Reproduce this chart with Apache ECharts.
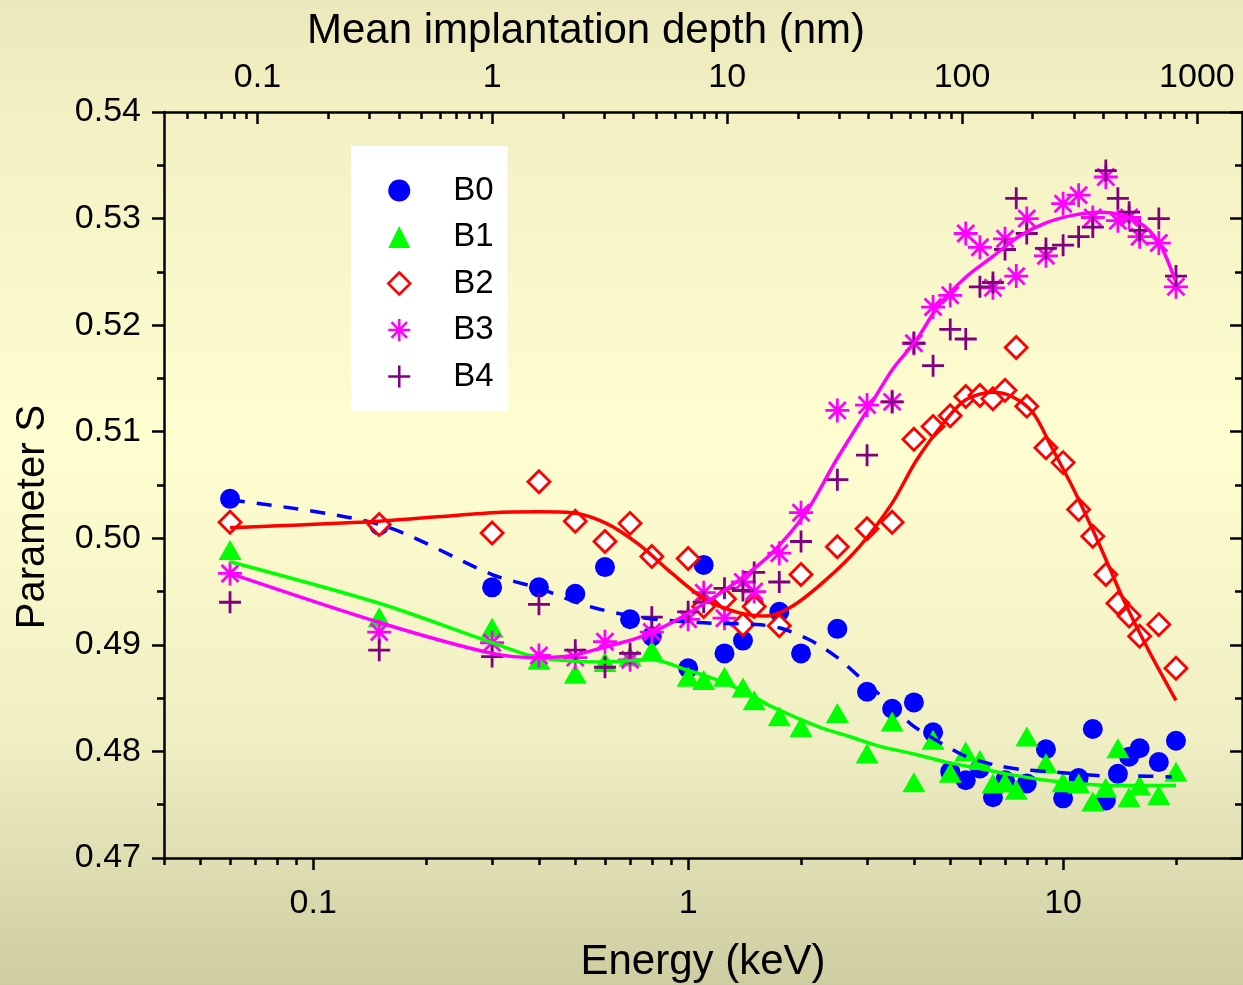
<!DOCTYPE html>
<html><head><meta charset="utf-8">
<script src="https://cdn.jsdelivr.net/npm/echarts@6/dist/echarts.min.js"></script>
<style>html,body{margin:0;padding:0;background:#fff;}#c{width:1243px;height:985px;}</style>
</head><body><div id="c"></div>
<script>
// ---------- data ----------
const E_B0 = [0.06,0.15,0.3,0.4,0.5,0.6,0.7,0.8,1,1.1,1.25,1.4,1.5,1.75,2,2.5,3,3.5,4,4.5,5,5.5,6,6.5,7,8,9,10,11,12,13,14,15,16,18,20];
const S_B0 = [0.5037,0.5012,0.4954,0.4954,0.4948,0.4973,0.4924,0.4908,0.4878,0.4975,0.4892,0.4904,0.4937,0.4931,0.4892,0.4915,0.4856,0.4840,0.4846,0.4818,0.4781,0.4773,0.4784,0.4757,0.4773,0.4770,0.4802,0.4756,0.4775,0.4821,0.4754,0.4779,0.4795,0.4803,0.4790,0.4810];
const E_ALL = [0.06,0.15,0.3,0.4,0.5,0.6,0.7,0.8,1,1.1,1.25,1.4,1.5,1.75,2,2.5,3,3.5,4,4.5,5,5.5,6,6.5,7,7.5,8,9,10,11,12,13,14,15,16,18,20];
const S_B1 = [0.4989,0.4926,0.4916,0.4886,0.4873,0.4884,0.4889,0.4895,0.4870,0.4867,0.4870,0.4860,0.4848,0.4833,0.4823,0.4836,0.4798,0.4828,0.4771,0.4811,0.4780,0.4800,0.4792,0.4770,0.4771,0.4764,0.4814,0.4789,0.4771,0.4770,0.4753,0.4766,0.4803,0.4757,0.4768,0.4759,0.4781];
const S_B2 = [0.5015,0.5013,0.5005,0.5053,0.5016,0.4997,0.5014,0.4983,0.4981,0.4936,0.4943,0.4919,0.4936,0.4918,0.4966,0.4992,0.5009,0.5015,0.5093,0.5105,0.5115,0.5133,0.5134,0.5131,0.5139,0.5179,0.5124,0.5085,0.5071,0.5027,0.5002,0.4966,0.4939,0.4927,0.4908,0.4919,0.4878];
const S_B3 = [0.4967,0.4912,0.4902,0.4890,0.4888,0.4903,0.4886,0.4912,0.4924,0.4949,0.4925,0.4959,0.4950,0.4986,0.5024,0.5120,0.5125,0.5128,0.5183,0.5217,0.5228,0.5286,0.5273,0.5235,0.5281,0.5246,0.5300,0.5265,0.5314,0.5322,0.5301,0.5339,0.5298,0.5301,0.5283,0.5277,0.5236];
const S_B4 = [0.4940,0.4895,0.4889,0.4938,0.4895,0.4879,0.4892,0.4926,0.4931,0.4940,0.4953,0.4951,0.4968,0.4959,0.4997,0.5055,0.5078,0.5128,0.5183,0.5162,0.5196,0.5187,0.5236,0.5240,0.5271,0.5319,0.5286,0.5272,0.5275,0.5283,0.5292,0.5345,0.5319,0.5306,0.5289,0.5300,0.5246];

// fitted curves
const FIT_B0_E = [0.06,0.15,0.3,0.4,0.545,0.74,1.05,1.52,1.75,2.1,2.48,2.86,3.37,3.95,4.72,5.54,6.62,7.77,9.18,10.8,13,15.6,19.5];
const FIT_B0_S = [0.5036,0.5013,0.4966,0.4953,0.4936,0.4926,0.4921,0.4919,0.4916,0.4905,0.4889,0.4870,0.4848,0.4825,0.4808,0.4795,0.4787,0.4783,0.4781,0.4779,0.4777,0.4777,0.4776];
const FIT_B1_E = [0.06,0.15,0.3,0.4,0.6,0.8,1.0,1.26,1.52,1.67,2.23,2.69,3.23,3.96,4.87,5.97,7.32,9.0,11,13.5,16.6,20];
const FIT_B1_S = [0.4978,0.4939,0.4902,0.4888,0.4884,0.4886,0.4876,0.4864,0.4850,0.4842,0.4823,0.4814,0.4805,0.4798,0.4790,0.4784,0.4778,0.4773,0.4770,0.4768,0.4768,0.4768];
const FIT_B2_E = [0.06,0.15,0.3,0.4,0.49,0.605,0.74,0.906,1.117,1.37,1.61,1.89,2.33,2.86,3.5,4.06,4.87,5.5,6.47,7.3,8.3,9.3,10.7,12.5,14.5,16.9,20];
const FIT_B2_S = [0.5010,0.5016,0.5024,0.5025,0.5024,0.5014,0.4994,0.4967,0.4942,0.4930,0.4927,0.4936,0.4961,0.4992,0.5033,0.5073,0.5111,0.5130,0.5137,0.5133,0.5118,0.5086,0.5045,0.4994,0.4942,0.4895,0.4848];
const FIT_B3_E = [0.06,0.15,0.3,0.4,0.49,0.6,0.74,0.906,1.117,1.37,1.67,2.06,2.48,3.04,3.5,4.06,4.67,5.5,6.47,7.6,9.0,10.6,12.5,14.4,16.6,18.3,19.9];
const FIT_B3_S = [0.4967,0.4921,0.4892,0.4888,0.4890,0.4898,0.4907,0.4921,0.4940,0.4961,0.4986,0.5024,0.5073,0.5123,0.5158,0.5186,0.5219,0.5245,0.5264,0.5283,0.5296,0.5303,0.5306,0.5303,0.5292,0.5273,0.5242];

// axis ranges and tick values
const E_MIN = 0.04, E_MAX = 30;          // Energy (keV), bottom
const D_MIN = 0.04, D_MAX = 1556;        // Mean implantation depth (nm), top
const S_MIN = 0.47, S_MAX = 0.54, S_STEP = 0.01;
const E_MAJOR = [0.1, 1, 10];
const E_MINOR = [0.04,0.05,0.06,0.07,0.08,0.09,0.2,0.3,0.4,0.5,0.6,0.7,0.8,0.9,2,3,4,5,6,7,8,9,20];
const D_MAJOR = [0.1, 1, 10, 100, 1000];
const D_MINOR = [0.05,0.06,0.07,0.08,0.09,0.2,0.3,0.4,0.5,0.6,0.7,0.8,0.9,2,3,4,5,6,7,8,9,20,30,40,50,60,70,80,90,200,300,400,500,600,700,800,900];

// ---------- chart ----------
const FONT = '"Liberation Sans", Arial, Helvetica, sans-serif';
const BLACK = '#000';
const L10 = Math.log10;
const isMajor = (v, list) => list.some(m => Math.abs(L10(m) - L10(v)) < 1e-6);
const pair = (xs, ys) => xs.map((x, i) => [x, ys[i]]);
const lineStyleAxis = {color: BLACK, width: 2.5};

function tickAxis(pos, min, max, vals, len, inside) {
  return {
    type: 'value', position: pos, min: L10(min), max: L10(max),
    axisLine: {show: false, onZero: false}, axisLabel: {show: false}, splitLine: {show: false},
    axisTick: {show: true, inside: inside, length: len, customValues: vals.map(L10), lineStyle: lineStyleAxis}
  };
}

const ASTER = 'path://M10,0L10,20M0,10L20,10M2.93,2.93L17.07,17.07M17.07,2.93L2.93,17.07';
const PLUS = 'path://M10,0L10,20M0,10L20,10';

const chart = echarts.init(document.getElementById('c'), null, {renderer: 'canvas'});
chart.setOption({
  animation: false,
  backgroundColor: {
    type: 'linear', x: 0, y: 0, x2: 0, y2: 1,
    colorStops: [
      {offset: 0, color: '#ebe9bc'},
      {offset: 0.12, color: '#f3f1c4'},
      {offset: 0.45, color: '#fefed0'},
      {offset: 0.75, color: '#f0efc3'},
      {offset: 1, color: '#cecca1'}
    ]
  },
  textStyle: {fontFamily: FONT},
  grid: {left: 164, right: 1, top: 112, bottom: 127, containLabel: false, outerBoundsMode: 'none'},
  legend: {
    orient: 'vertical', left: 351, top: 146,
    backgroundColor: '#ffffff', borderWidth: 0,
    padding: [28, 14, 18, 36], itemGap: 13.5, itemWidth: 22, itemHeight: 22,
    textStyle: {fontSize: 33, lineHeight: 33, color: BLACK, fontFamily: FONT, padding: [0, 0, 0, 38]},
    data: [
      {name: 'B0'}, {name: 'B1'},
      {name: 'B2', itemStyle: {borderWidth: 2.5}},
      {name: 'B3', itemStyle: {borderWidth: 2.5}},
      {name: 'B4', itemStyle: {borderWidth: 2.5}}
    ]
  },
  xAxis: [
    {
      type: 'log', logBase: 10, position: 'bottom', min: E_MIN, max: E_MAX,
      name: 'Energy (keV)', nameLocation: 'middle', nameGap: 83,
      nameTextStyle: {fontSize: 42, color: BLACK, fontFamily: FONT},
      axisLine: {show: true, onZero: false, lineStyle: lineStyleAxis},
      axisTick: {show: false}, minorTick: {show: false}, splitLine: {show: false},
      axisLabel: {fontSize: 34, color: BLACK, fontFamily: FONT, margin: 29, hideOverlap: false,
        formatter: v => isMajor(v, E_MAJOR) ? String(v) : ''}
    },
    tickAxis('bottom', E_MIN, E_MAX, E_MAJOR, 12, false),
    tickAxis('bottom', E_MIN, E_MAX, E_MINOR, 7, false),
    {
      type: 'log', logBase: 10, position: 'top', min: D_MIN, max: D_MAX,
      name: 'Mean implantation depth (nm)', nameLocation: 'middle', nameGap: 60,
      nameTextStyle: {fontSize: 42, color: BLACK, fontFamily: FONT, padding: [0, 234, 0, 0]},
      axisLine: {show: true, onZero: false, lineStyle: lineStyleAxis},
      axisTick: {show: false}, minorTick: {show: false}, splitLine: {show: false},
      axisLabel: {fontSize: 34, color: BLACK, fontFamily: FONT, margin: 17, hideOverlap: false,
        formatter: v => isMajor(v, D_MAJOR) ? String(v) : ''}
    },
    tickAxis('top', D_MIN, D_MAX, D_MAJOR, 12, true),
    tickAxis('top', D_MIN, D_MAX, D_MINOR, 7, true)
  ],
  yAxis: [
    {
      type: 'value', position: 'left', min: S_MIN, max: S_MAX, interval: S_STEP,
      name: 'Parameter S', nameLocation: 'middle', nameGap: 111,
      nameTextStyle: {fontSize: 40, color: BLACK, fontFamily: FONT, padding: [0, 64, 0, 0]},
      axisLine: {show: true, onZero: false, lineStyle: lineStyleAxis},
      axisTick: {show: true, inside: false, length: 12, lineStyle: lineStyleAxis},
      minorTick: {show: true, splitNumber: 2, length: 7, lineStyle: lineStyleAxis},
      splitLine: {show: false}, minorSplitLine: {show: false},
      axisLabel: {fontSize: 34, color: BLACK, fontFamily: FONT, margin: 23, formatter: v => v.toFixed(2)}
    },
    {
      type: 'value', position: 'right', min: S_MIN, max: S_MAX, interval: S_STEP,
      axisLine: {show: true, onZero: false, lineStyle: lineStyleAxis},
      axisTick: {show: true, inside: true, length: 12, lineStyle: lineStyleAxis},
      minorTick: {show: true, splitNumber: 2, length: 7, lineStyle: lineStyleAxis},
      splitLine: {show: false}, axisLabel: {show: false}
    }
  ],
  series: [
    {name: 'B0', type: 'scatter', xAxisIndex: 0, yAxisIndex: 0, symbol: 'circle', symbolSize: 20,
     itemStyle: {color: '#0000ff', opacity: 1}, data: pair(E_B0, S_B0), z: 3},
    {name: 'B1', type: 'scatter', xAxisIndex: 0, yAxisIndex: 0, symbol: 'triangle', symbolSize: [23, 20],
     itemStyle: {color: '#00ff00', opacity: 1}, data: pair(E_ALL, S_B1), z: 3},
    {name: 'B2', type: 'scatter', xAxisIndex: 0, yAxisIndex: 0, symbol: 'diamond', symbolSize: 22,
     itemStyle: {color: '#ffffff', borderColor: '#ff0000', borderWidth: 2.8, opacity: 1}, data: pair(E_ALL, S_B2), z: 3},
    {name: 'B3', type: 'scatter', xAxisIndex: 0, yAxisIndex: 0, symbol: ASTER, symbolSize: 24,
     itemStyle: {color: '#ff00ff', borderColor: '#ff00ff', borderWidth: 2.8, opacity: 1}, data: pair(E_ALL, S_B3), z: 3},
    {name: 'B4', type: 'scatter', xAxisIndex: 0, yAxisIndex: 0, symbol: PLUS, symbolSize: 22,
     itemStyle: {color: '#800080', borderColor: '#800080', borderWidth: 2.8, opacity: 1}, data: pair(E_ALL, S_B4), z: 3},
    {name: 'B0 fit', type: 'line', xAxisIndex: 0, yAxisIndex: 0, showSymbol: false, symbol: 'none', smooth: 0.3,
     lineStyle: {color: '#0000ff', width: 3.5, type: [15, 12]}, data: pair(FIT_B0_E, FIT_B0_S), z: 4},
    {name: 'B1 fit', type: 'line', xAxisIndex: 0, yAxisIndex: 0, showSymbol: false, symbol: 'none', smooth: 0.3,
     lineStyle: {color: '#00ff00', width: 3.5}, data: pair(FIT_B1_E, FIT_B1_S), z: 4},
    {name: 'B2 fit', type: 'line', xAxisIndex: 0, yAxisIndex: 0, showSymbol: false, symbol: 'none', smooth: 0.3,
     lineStyle: {color: '#ff0000', width: 3.5}, data: pair(FIT_B2_E, FIT_B2_S), z: 4},
    {name: 'B3 fit', type: 'line', xAxisIndex: 0, yAxisIndex: 0, showSymbol: false, symbol: 'none', smooth: 0.3,
     lineStyle: {color: '#ff00ff', width: 3.5}, data: pair(FIT_B3_E, FIT_B3_S), z: 4}
  ]
});
</script></body></html>
